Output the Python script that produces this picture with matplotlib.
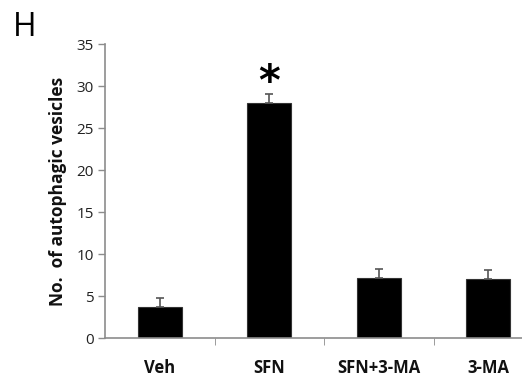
import numpy as np
import matplotlib.pyplot as plt

groups = ['Veh', 'SFN', 'SFN+3-MA', '3-MA']
means  = [3.7, 28.0, 7.1, 7.0]
errs   = [1.05, 1.0, 1.1, 1.1]
ticks  = [0, 5, 10, 15, 20, 25, 30, 35]

plt.rcParams['font.family'] = ['Open Sans', 'DejaVu Sans']
axc = '#8c8c8c'

fig = plt.figure(figsize=(5.22, 3.77), dpi=100)
ax = fig.add_axes([105/522, 1 - 338/377, 438/522, 294/377])

x = np.arange(len(groups))
ax.bar(x, means, width=0.40, color='black', edgecolor='#333333', linewidth=0.8)
ax.errorbar(x, means, yerr=[np.zeros(len(errs)), errs], fmt='none',
            ecolor='#555555', elinewidth=1.2, capsize=3, capthick=1.2)
ax.text(1, 27.9, '*', ha='center', va='bottom', fontsize=30, fontweight='bold',
        family='DejaVu Sans')

ax.set_xlim(-0.5, 3.5)
ax.set_ylim(0, 35)
ax.set_yticks(ticks)
ax.set_yticklabels([str(t) for t in ticks], fontsize=11)
ax.set_xticks(x)
ax.set_xticklabels(groups, fontsize=12, fontweight='bold')
ax.tick_params(axis='x', length=0, pad=15)
ax.set_xticks(x[:-1] + 0.5, minor=True)
ax.tick_params(axis='x', which='minor', length=5, color=axc, direction='out')
ax.tick_params(axis='y', length=5, color=axc, width=1, pad=3, colors='#222222')
ax.tick_params(axis='x', colors='#111111')

for s in ['top', 'right']:
    ax.spines[s].set_visible(False)
for s in ['left', 'bottom']:
    ax.spines[s].set_color(axc)
    ax.spines[s].set_linewidth(1.2)

ax.set_ylabel('No.  of autophagic vesicles', fontsize=12.5, fontweight='bold',
              labelpad=7, color='#111111')
fig.text(13/522, 1 - 27/377, 'H', fontsize=23, va='center', ha='left')

fig.savefig('out.png', dpi=100)
